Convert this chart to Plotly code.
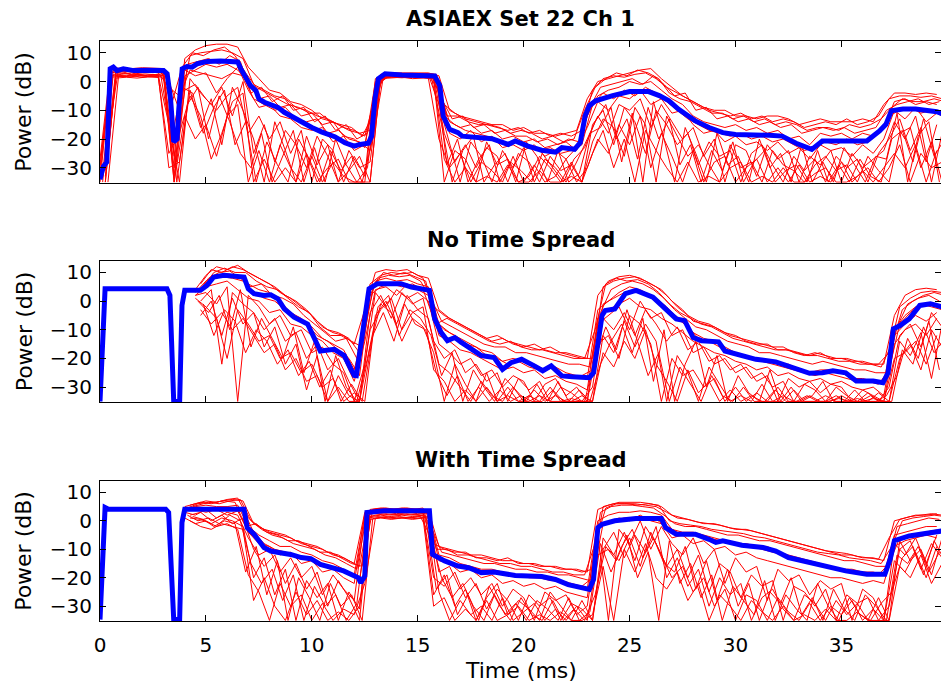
import plotly.graph_objects as go

FONT = "DejaVu Sans"

# ---------------- time grids for the red ensemble traces (ms) ----------------
T_A = [0.0, 0.5, 1.0, 1.5, 2.0, 2.5, 3.0, 3.5, 4.0, 4.5,
       5.0, 5.5, 6.0, 6.5, 7.0, 7.5, 8.0, 8.5, 9.0, 9.5,
       10.0, 10.5, 11.0, 11.5, 12.0, 12.5, 13.0, 13.5, 14.0, 14.5,
       15.0, 15.5, 16.0, 16.5, 17.0, 17.5, 18.0, 18.5, 19.0, 19.5,
       20.0, 20.5, 21.0, 21.5, 22.0, 22.5, 23.0, 23.5, 24.0, 24.5,
       25.0, 25.5, 26.0, 26.5, 27.0, 27.5, 28.0, 28.5, 29.0, 29.5,
       30.0, 30.5, 31.0, 31.5, 32.0, 32.5, 33.0, 33.5, 34.0, 34.5,
       35.0, 35.5, 36.0, 36.5, 37.0, 37.5, 38.0, 38.5, 39.0, 39.5]
T_B = [0.25, 0.75, 1.25, 1.75, 2.25, 2.75, 3.25, 3.75, 4.25, 4.75,
       5.25, 5.75, 6.25, 6.75, 7.25, 7.75, 8.25, 8.75, 9.25, 9.75,
       10.25, 10.75, 11.25, 11.75, 12.25, 12.75, 13.25, 13.75, 14.25, 14.75,
       15.25, 15.75, 16.25, 16.75, 17.25, 17.75, 18.25, 18.75, 19.25, 19.75,
       20.25, 20.75, 21.25, 21.75, 22.25, 22.75, 23.25, 23.75, 24.25, 24.75,
       25.25, 25.75, 26.25, 26.75, 27.25, 27.75, 28.25, 28.75, 29.25, 29.75,
       30.25, 30.75, 31.25, 31.75, 32.25, 32.75, 33.25, 33.75, 34.25, 34.75,
       35.25, 35.75, 36.25, 36.75, 37.25, 37.75, 38.25, 38.75, 39.25, 39.75]
T_C = [0.125, 0.625, 1.125, 1.625, 2.125, 2.625, 3.125, 3.625, 4.125, 4.625,
       5.125, 5.625, 6.125, 6.625, 7.125, 7.625, 8.125, 8.625, 9.125, 9.625,
       10.125, 10.625, 11.125, 11.625, 12.125, 12.625, 13.125, 13.625, 14.125, 14.625,
       15.125, 15.625, 16.125, 16.625, 17.125, 17.625, 18.125, 18.625, 19.125, 19.625,
       20.125, 20.625, 21.125, 21.625, 22.125, 22.625, 23.125, 23.625, 24.125, 24.625,
       25.125, 25.625, 26.125, 26.625, 27.125, 27.625, 28.125, 28.625, 29.125, 29.625,
       30.125, 30.625, 31.125, 31.625, 32.125, 32.625, 33.125, 33.625, 34.125, 34.625,
       35.125, 35.625, 36.125, 36.625, 37.125, 37.625, 38.125, 38.625, 39.125, 39.625]
T_D = [0.375, 0.875, 1.375, 1.875, 2.375, 2.875, 3.375, 3.875, 4.375, 4.875,
       5.375, 5.875, 6.375, 6.875, 7.375, 7.875, 8.375, 8.875, 9.375, 9.875,
       10.375, 10.875, 11.375, 11.875, 12.375, 12.875, 13.375, 13.875, 14.375, 14.875,
       15.375, 15.875, 16.375, 16.875, 17.375, 17.875, 18.375, 18.875, 19.375, 19.875,
       20.375, 20.875, 21.375, 21.875, 22.375, 22.875, 23.375, 23.875, 24.375, 24.875,
       25.375, 25.875, 26.375, 26.875, 27.375, 27.875, 28.375, 28.875, 29.375, 29.875,
       30.375, 30.875, 31.375, 31.875, 32.375, 32.875, 33.375, 33.875, 34.375, 34.875,
       35.375, 35.875, 36.375, 36.875, 37.375, 37.875, 38.375, 38.875, 39.375, 39.875]

# ---------------- Panel 1: ASIAEX Set 22 Ch 1 ----------------
P1_RED_A = [
    [-27, 5, 4.5, 4.5, 4.8, 4.6, 4.5, -33, 8, 11,
     12.5, 13, 13, 12, 5, 1, -3, -4, -7, -8,
     -10, -13, -14, -16, -17, -19, -5, 3, 3, 2.8,
     3, 3, 2, -10, -12, -13, -14, -15, -15, -17,
     -16, -18, -18, -19, -18, -17, -6, 0, 1, 2,
     3, 4, 4.5, 1, -2, -5, -7, -9, -10, -10,
     -12, -12, -13, -12, -12, -13, -15, -14, -13, -14,
     -14, -14, -13, -14, -8, -4, -4, -4.5, -4, -4.5],
    [-30, 3, 3.5, 2.5, 3, 3.2, 3, -35, 2, 4,
     6, 5, 6, 4, 0, -6, -5, -9, -8, -12,
     -11, -15, -14, -19, -20, -23, 0, 2, 2, 1.8,
     2.2, 2, -3, -14, -16, -15, -18, -17, -20, -19,
     -21, -20, -23, -22, -21, -24, -12, -5, -3, -2,
     0, -1, 0, -3, -6, -8, -12, -14, -15, -16,
     -15, -17, -16, -18, -17, -20, -19, -22, -18, -19,
     -18, -20, -18, -19, -16, -7, -6, -8, -7, -8],
    [-35, 2, 2.5, 3, 2, 2.5, 2, -30, -3, -1,
     -6, -10, -5, -2, -18, -12, -20, -14, -25, -17,
     -35, -20, -24, -35, -26, -33, 1, 2.5, 2.2, 2.5,
     2, 2.4, -8, -22, -35, -21, -26, -35, -24, -30,
     -23, -35, -27, -30, -35, -28, -20, -12, -18, -8,
     -10, -6, -16, -8, -14, -20, -16, -26, -20, -35,
     -22, -24, -33, -22, -27, -24, -35, -26, -29, -24,
     -35, -25, -30, -27, -24, -14, -20, -12, -28, -15],
    [-29, 1.5, 1.8, 2, 1.5, 1.8, 1.5, -35, -12, -20,
     -15, -26, -12, -8, -35, -24, -35, -22, -30, -35,
     -26, -35, -28, -33, -35, -35, -2, 1.5, 1.8, 1.5,
     1.7, 1.2, -20, -30, -25, -35, -28, -31, -35, -26,
     -35, -29, -35, -33, -27, -35, -30, -20, -25, -15,
     -22, -12, -30, -18, -26, -35, -24, -35, -28, -26,
     -35, -30, -27, -35, -30, -35, -29, -35, -33, -35,
     -28, -35, -31, -35, -30, -25, -30, -22, -35, -24],
    [-33, 3.5, 4, 3.5, 4, 3.6, 3.8, -26, 4, 2,
     3, -4, 1, 5, -3, -9, -8, -12, -13, -16,
     -17, -16, -21, -19, -24, -22, -3, 2.6, 2.4, 2.6,
     2.4, 2.6, 0, -18, -20, -17, -21, -19, -23, -22,
     -24, -22, -26, -24, -27, -23, -16, -7, -10, -5,
     -6, -3, -8, -6, -11, -10, -15, -18, -17, -21,
     -19, -22, -21, -24, -21, -25, -23, -27, -22, -24,
     -23, -26, -22, -25, -20, -10, -13, -9, -14, -11],
]
P1_RED_B = [
    [-28, 4, 4, 3.8, 4.2, 4, 0, -10, 9, 10,
     10.5, 11, 10, 8, -1, -3, -5, -6, -9, -10,
     -12, -13, -15, -17, -18, -17, 2.5, 2.8, 2.5, 2.8,
     2.6, 2.5, -8, -11, -13, -14, -15, -16, -17, -16,
     -18, -17, -19, -18, -19, -17, -3, 1, 2, 1.5,
     2.5, 3, 1, -2, -4, -6, -8, -10, -11, -12,
     -11, -13, -12, -14, -13, -14, -16, -15, -14, -15,
     -13, -15, -14, -12, -6, -5, -5, -5.5, -5, -6],
    [-31, 3, 3.5, 3.2, 3.5, 3, -2, -5, 4, 3,
     2, 1, 3, 2, -6, -8, -10, -9, -13, -14,
     -13, -18, -17, -20, -21, -24, 2, 2.2, 2, 2.4,
     2, 2.2, -12, -15, -17, -18, -19, -20, -22, -21,
     -22, -24, -23, -25, -24, -22, -8, -4, -6, -3,
     -5, -2, -4, -7, -10, -13, -15, -17, -18, -19,
     -18, -20, -19, -21, -20, -22, -24, -23, -21, -22,
     -20, -22, -21, -18, -12, -10, -9, -11, -10, -12],
    [-35, 2.2, 2, 2.5, 2, 2.3, -15, -35, 1, -4,
     -8, -2, -12, 0, -25, -15, -28, -17, -22, -30,
     -19, -26, -35, -24, -30, -28, 1.5, 2, 1.8, 2,
     1.5, 1.8, -18, -28, -22, -30, -23, -26, -35, -25,
     -28, -35, -26, -31, -29, -35, -15, -10, -22, -9,
     -14, -25, -10, -15, -22, -18, -29, -21, -26, -24,
     -35, -25, -22, -29, -35, -26, -31, -27, -35, -26,
     -30, -27, -35, -25, -20, -13, -24, -16, -35, -18],
    [-33, 1.2, 1.5, 1.2, 1.6, 1.4, -25, -18, -5, -12,
     -27, -18, -7, -4, -35, -27, -35, -30, -35, -25,
     -35, -30, -27, -35, -35, -35, 1, 1.2, 1.5, 1,
     1.2, 1, -27, -35, -30, -35, -33, -35, -29, -35,
     -35, -31, -35, -35, -33, -35, -25, -17, -30, -20,
     -35, -17, -24, -30, -35, -28, -35, -33, -35, -30,
     -28, -35, -33, -35, -30, -35, -35, -32, -30, -35,
     -35, -33, -30, -35, -30, -22, -35, -25, -30, -28],
    [-35, 2, 1.8, 2.2, 1.9, 2.1, -30, -28, -3, -16,
     -6, -22, -2, -10, -20, -35, -14, -24, -35, -19,
     -29, -22, -35, -31, -26, -35, 1.2, 1.5, 1.3, 1.6,
     1.4, 1.5, -35, -24, -27, -35, -21, -29, -27, -35,
     -33, -26, -30, -35, -28, -35, -21, -13, -16, -26,
     -9, -15, -35, -12, -19, -26, -22, -29, -35, -22,
     -30, -28, -35, -24, -29, -31, -35, -29, -26, -31,
     -29, -35, -26, -31, -35, -18, -16, -30, -21, -35],
]
P1_RED_C = [
    [-32, 4, 3.6, 4, 3.5, 3.8, 3.6, -28, 6, 7,
     8, 6, 9, 7, -4, -2, -7, -5, -10, -9,
     -14, -12, -17, -15, -20, -18, 0, 2.5, 2.7, 2.3,
     2.5, 2.3, -6, -13, -12, -16, -15, -18, -17, -19,
     -19, -21, -20, -22, -20, -21, -9, -2, -1, 0,
     1, -1, 2, -1, -5, -4, -10, -9, -13, -12,
     -14, -13, -15, -14, -16, -15, -18, -17, -16, -17,
     -16, -18, -17, -16, -10, -8, -7, -6, -8, -7],
    [-35, 2.5, 2.8, 2.2, 2.6, 2.4, 2.7, -35, -8, -2,
     -20, -5, -14, -25, -30, -18, -35, -26, -17, -35,
     -23, -35, -20, -29, -35, -30, -1, 1.8, 2.2, 2,
     2.1, 2, -15, -35, -24, -19, -35, -29, -25, -35,
     -21, -26, -35, -24, -35, -32, -18, -16, -9, -28,
     -11, -35, -7, -20, -35, -16, -25, -35, -18, -29,
     -26, -35, -20, -30, -25, -35, -22, -35, -28, -35,
     -23, -29, -35, -26, -27, -11, -35, -19, -14, -35],
]
P1_RED_D = [
    [-20, 4.5, 4.2, 4.4, 4, 4.3, -8, 5, 10, 9,
     11, 12, 9, 3, -2, -4, -6, -8, -9, -11,
     -11, -14, -15, -16, -19, -12, 2.8, 2.5, 2.8, 2.6,
     2.8, 2.5, -12, -12, -14, -15, -15, -16, -18, -17,
     -18, -20, -19, -21, -20, -10, -2, 1, 3, 2,
     4, 3, 1, -4, -6, -7, -9, -11, -11, -13,
     -12, -14, -13, -15, -14, -15, -17, -16, -16, -17,
     -15, -16, -15, -13, -9, -6, -7, -7, -6, -7],
    [-35, 1.8, 1.6, 2, 1.7, 1.9, -20, -2, -4, -18,
     -9, -3, -22, -14, -35, -21, -29, -35, -20, -27,
     -35, -24, -31, -26, -35, -20, 1.5, 1.7, 1.4, 1.8,
     1.5, 1.6, -29, -20, -35, -27, -22, -35, -28, -31,
     -35, -25, -30, -35, -27, -23, -14, -8, -20, -13,
     -27, -9, -20, -13, -29, -22, -35, -24, -31, -21,
     -35, -28, -24, -35, -31, -29, -35, -24, -35, -29,
     -35, -27, -33, -35, -20, -17, -28, -13, -26, -20],
]
BLUE1 = [(0, -34), (0.16, -29.5), (0.32, -28), (0.4, -6), (0.48, 4.4), (0.63, 5),
         (0.8, 3.8), (1.1, 4.4), (1.3, 4), (1.6, 3.8), (2.2, 3.9), (2.7, 3.8),
         (3.0, 3.8), (3.17, 2.7), (3.33, -6), (3.48, -21), (3.64, -20), (3.72, -9.5),
         (3.88, 4.4), (4.1, 5.2), (4.35, 5), (4.6, 6.2), (5.07, 7), (5.7, 7.1),
         (6.33, 7), (6.5, 6.8), (6.65, 4.4), (6.9, 1), (7.1, -1.4), (7.36, -3.2),
         (7.5, -6), (7.76, -7.2), (8.08, -8.2), (8.4, -9), (8.7, -10.7), (9.0, -12),
         (9.5, -14.3), (10.0, -16), (10.45, -17.5), (11.08, -19.2), (11.56, -21.3),
         (12.0, -22.5), (12.27, -21.9), (12.67, -21.5), (12.82, -19), (12.98, -6),
         (13.14, 1), (13.46, 2.7), (14.25, 2.3), (15.04, 2.3), (15.8, 1.9),
         (16.04, -1.4), (16.2, -12), (16.5, -16.6), (16.9, -17.8), (17.1, -19),
         (18.0, -19.3), (18.5, -19.9), (19.27, -21.9), (19.6, -20.7), (20.2, -22.5),
         (20.85, -23.9), (21.5, -24.6), (21.8, -23), (22.4, -23.6), (22.67, -21.3),
         (22.9, -12), (23.1, -8.4), (23.4, -6.7), (23.7, -6), (24.2, -4.9),
         (25.0, -3.5), (25.9, -3.5), (26.4, -4.9), (26.86, -6.7), (27.3, -9.6),
         (28.1, -13.7), (28.75, -16), (29.4, -17.8), (30.0, -18.4), (31.0, -18.4),
         (31.6, -18.7), (32.2, -19), (32.86, -21.5), (33.6, -23.6), (34.1, -20.7),
         (34.9, -20.7), (35.9, -20.7), (36.2, -20.7), (36.8, -17.2), (37.1, -14.9),
         (37.36, -10.2), (37.9, -9.6), (38.5, -9.6), (39.5, -10.5), (39.8, -11.3)]

# ---------------- Panel 2: No Time Spread ----------------
P2_RED_A = [
    [4,
     9, 12, 11, 12.5, 10, 8, 6, 3, 1, -2,
     -5, -9, -11, -12, -15, -3, 10, 11, 10.5, 11,
     9, 8, -3, -6, -8, -10, -12, -14, -13, -15,
     -16, -15, -17, -18, -18, -19, -20, 2, 7, 8.5,
     9, 8, 6, 4, 0, -3, -7, -8, -9, -11,
     -12, -14, -15, -15, -17, -17, -18, -19, -18, -20,
     -20, -21, -21, -22, -22, -5, 2, 4, 4.5, 4],
    [3,
     7, 9, 9.5, 9, 6, 4, 3, 0, -4, -6,
     -9, -13, -15, -17, -24, -8, 7, 8, 7, 7.5,
     6, 5, -8, -11, -13, -15, -17, -18, -21, -20,
     -21, -22, -24, -23, -25, -26, -27, -3, 0, 3,
     5, 4, 2, -1, -4, -7, -11, -13, -14, -16,
     -18, -19, -20, -21, -22, -22, -24, -25, -24, -24,
     -25, -27, -27, -28, -28, -10, -5, -2, -1, -2],
    [2,
     3, -1, 5, -35, 2, -2, -8, -5, -12, -10,
     -18, -16, -22, -25, -35, -22, 3, -2, 4, 1,
     3, 0, -15, -18, -22, -20, -26, -24, -30, -26,
     -28, -35, -29, -27, -33, -30, -35, -8, -5, -2,
     -10, 0, -6, -4, -12, -10, -18, -16, -22, -20,
     -25, -23, -28, -26, -35, -27, -30, -28, -32, -29,
     -30, -35, -31, -33, -35, -15, -10, -8, -12, -6],
    [1,
     -2, -6, -20, -3, -8, -14, -12, -20, -18, -25,
     -22, -30, -27, -35, -32, -35, -5, 0, -8, 2,
     -3, -6, -22, -25, -30, -35, -28, -33, -35, -30,
     -35, -31, -35, -33, -35, -35, -35, -15, -12, -20,
     -5, -8, -15, -35, -20, -26, -24, -30, -27, -35,
     -30, -35, -32, -35, -30, -35, -35, -33, -35, -35,
     -33, -35, -35, -34, -35, -20, -18, -14, -22, -12],
    [2,
     5, 6, 7, 4, 1, 0, -4, -3, -8, -9,
     -12, -14, -18, -20, -28, -14, 4, 5, 2, 6,
     4, 2, -12, -14, -17, -18, -20, -22, -24, -23,
     -25, -24, -27, -26, -28, -29, -31, -6, -3, -1,
     1, -2, -3, -6, -8, -11, -14, -16, -18, -19,
     -21, -22, -24, -23, -26, -25, -27, -28, -27, -29,
     -28, -30, -31, -30, -33, -12, -8, -5, -7, -4],
]
P2_RED_B = [
    [6,
     11, 10, 12, 11, 9, 7, 5, 2, 0, -3,
     -7, -10, -11, -13, -18, 6, 9, 10, 9.5, 10,
     8, -2, -5, -7, -9, -11, -13, -12, -14, -15,
     -16, -17, -16, -18, -19, -20, -20, 5, 7, 8,
     8.5, 7, 5, 2, -2, -5, -7, -8, -10, -12,
     -13, -14, -15, -16, -16, -18, -19, -18, -19, -20,
     -20, -21, -22, -22, -18, -2, 1, 3, 3.5, 3],
    [4,
     8, 8.5, 8, 7, 3, 1, 0, -3, -6, -8,
     -12, -14, -17, -20, -26, 2, 5, 6, 5, 6,
     4, -6, -10, -12, -15, -16, -19, -20, -22, -21,
     -23, -24, -23, -26, -27, -26, -24, -1, 1, 3,
     4, 2, 1, -2, -6, -9, -13, -14, -16, -18,
     -19, -20, -21, -22, -23, -24, -25, -26, -25, -26,
     -27, -28, -28, -29, -24, -8, -4, -1, -2, -3],
    [0,
     4, -22, 3, -1, -4, -10, -6, -14, -11, -20,
     -15, -24, -20, -28, -35, -4, 2, -6, 3, -1,
     1, -14, -20, -17, -25, -22, -28, -25, -35, -27,
     -31, -28, -35, -30, -32, -35, -30, -6, -10, -4,
     -12, -3, -8, -14, -9, -17, -14, -21, -19, -24,
     -22, -27, -25, -30, -28, -35, -29, -31, -35, -30,
     -33, -35, -32, -35, -30, -12, -8, -16, -4, -9],
    [-3,
     -8, -4, -10, -6, -12, -18, -15, -24, -20, -28,
     -26, -35, -30, -35, -35, -10, -3, 1, -10, -4,
     -2, -24, -28, -35, -31, -35, -30, -35, -33, -35,
     -35, -33, -35, -35, -34, -35, -35, -18, -23, -14,
     -20, -10, -22, -28, -35, -24, -32, -28, -35, -31,
     -35, -33, -35, -35, -33, -35, -35, -35, -33, -35,
     -35, -34, -35, -35, -35, -20, -15, -24, -10, -16],
    [-5,
     0, -12, 1, -8, -4, -16, -9, -22, -15, -31,
     -19, -35, -26, -33, -35, -16, -1, -4, -14, -6,
     -9, -18, -35, -22, -29, -35, -25, -35, -30, -35,
     -33, -35, -30, -35, -35, -33, -35, -12, -18, -7,
     -16, -8, -14, -35, -19, -25, -35, -23, -29, -35,
     -33, -35, -29, -35, -35, -31, -35, -35, -35, -33,
     -35, -35, -35, -32, -35, -14, -19, -11, -27, -8],
]
P2_RED_C = [
    [3,
     8, 10, 10.5, 8, 5, 6, 2, 1, -1, -5,
     -8, -11, -14, -13, -20, 0, 8, 9, 8.5, 9,
     7, 1, -7, -9, -11, -13, -15, -16, -16, -18,
     -18, -19, -20, -21, -22, -22, -23, -4, 4, 6,
     7, 6, 4, 1, -3, -6, -9, -10, -12, -14,
     -15, -16, -18, -18, -19, -20, -21, -22, -21, -22,
     -23, -24, -24, -25, -25, -9, -1, 1, 2, 0],
    [0,
     -4, 2, -10, 4, -16, -6, -13, -20, -9, -25,
     -14, -35, -19, -30, -35, -20, -2, 2, -12, -3,
     -6, -12, -26, -18, -35, -24, -30, -35, -27, -31,
     -35, -29, -35, -28, -35, -31, -35, -22, -14, -8,
     -18, -6, -28, -10, -35, -22, -14, -30, -19, -35,
     -26, -32, -35, -24, -35, -30, -35, -33, -28, -35,
     -35, -31, -35, -35, -33, -26, -13, -20, -7, -24],
]
P2_RED_D = [
    [5,
     10, 11.5, 10, 10, 7, 5, 4, 1, -2, -4,
     -9, -12, -12, -14, -16, 4, 10, 9, 10, 8.5,
     7, -8, -6, -8, -10, -12, -14, -15, -14, -16,
     -17, -17, -18, -19, -20, -20, -10, 6, 8, 7,
     7.5, 6, 3, -1, -4, -6, -8, -9, -11, -13,
     -14, -15, -16, -17, -17, -18, -19, -19, -20, -21,
     -21, -22, -22, -23, -15, -3, 0, 2, 3, 2],
    [-1,
     -12, -3, -7, -18, -10, -14, -22, -17, -26, -21,
     -30, -24, -35, -29, -35, -12, -4, -14, -1, -8,
     -10, -25, -33, -26, -35, -30, -35, -31, -35, -33,
     -35, -35, -31, -35, -35, -35, -20, -9, -17, -3,
     -14, -26, -18, -35, -23, -29, -35, -26, -33, -35,
     -30, -35, -35, -31, -35, -35, -33, -35, -35, -34,
     -35, -35, -33, -35, -35, -17, -22, -9, -18, -13],
]
BLUE2 = [(0, -35), (0.24, 4.3), (1.5, 4.3), (3.16, 4.3), (3.3, 2), (3.48, -35),
         (3.76, -35), (3.87, -1.5), (4.0, 3.75), (4.74, 3.75), (5.05, 5.5), (5.37, 8.4),
         (5.85, 9), (6.3, 8.8), (6.8, 8.4), (7.0, 4.3), (7.27, 2.6), (7.74, 2),
         (8.06, 2.2), (8.4, 0.8), (8.7, -2.7), (9.16, -5.6), (9.48, -6.8), (9.8, -8),
         (10.1, -12.7), (10.4, -17.4), (11.06, -16.8), (11.53, -19), (11.85, -23.8),
         (12.0, -25.9), (12.1, -26), (12.32, -15.6), (12.5, -5), (12.7, 4.3),
         (13.1, 6.1), (14.2, 6.1), (14.7, 4.9), (15.55, 3.75), (15.8, -6.2),
         (16.1, -10.9), (16.4, -13.8), (16.75, -12.7), (17.06, -14.4), (17.7, -17.4),
         (18.0, -19), (18.6, -19.7), (19.0, -23.8), (19.4, -21.5), (19.9, -20.3),
         (20.5, -22.6), (20.9, -24.3), (21.3, -22.6), (21.8, -26.1), (22.3, -26.4),
         (23.1, -26.7), (23.3, -25), (23.7, -5), (23.85, -3.3), (24.3, -2.7),
         (24.8, 2.6), (25.3, 3.75), (26.1, 1.4), (26.5, -1.5), (27.2, -6.2),
         (27.6, -6.8), (28.0, -12.7), (28.4, -13.8), (29.2, -14.2), (29.5, -17.4),
         (30.0, -18.5), (30.96, -20.3), (31.9, -21.2), (32.86, -23.8), (33.5, -25.2),
         (34.1, -25), (34.6, -24.3), (35.2, -25), (35.7, -27.9), (36.5, -27.9),
         (36.96, -28.5), (37.2, -25), (37.45, -9.7), (37.75, -8.6), (38.2, -6.2),
         (38.7, -1.5), (39.2, -0.9), (39.8, -2.1)]

# ---------------- Panel 3: With Time Spread ----------------
P3_RED_A = [
    [5, 6,
     7, 6.5, 7.5, 8, 1, -2, -4, -5, -6, -8,
     -9, -10, -12, -13, -15, 3, 4, 4.5, 4, 4.5,
     4, 4, -9, -10, -11, -12, -12, -13, -14, -14,
     -15, -15, -16, -16, -17, -17, -18, 4, 5.5, 6.5,
     6.5, 6.5, 6, 5, 2, 1, 0, -1, -1, -2,
     -3, -3, -4, -5, -6, -7, -8, -9, -10, -11,
     -12, -12, -13, -13, -14, 0, 1, 2, 2, 2.5],
    [4, 5,
     5.5, 5, 5, 5.5, -2, -5, -7, -9, -9, -11,
     -12, -14, -15, -17, -19, 2, 3, 3.5, 3, 3.5,
     3, 3, -12, -13, -15, -16, -17, -17, -18, -19,
     -19, -19, -20, -21, -22, -23, -24, 0, 2, 3,
     3, 3.5, 3, 2, -3, -4, -4, -5, -6, -7,
     -8, -8, -9, -9, -11, -12, -13, -14, -15, -16,
     -17, -17, -18, -18, -19, -5, -4, -3, -2, -2],
    [3, 2,
     4, 1, 3, 2, -6, -12, -10, -18, -13, -20,
     -16, -26, -19, -24, -28, 1, 2, 2.5, 2, 2.5,
     2, 1.5, -18, -16, -24, -20, -26, -22, -30, -24,
     -27, -35, -25, -28, -26, -33, -30, -5, -35, -3,
     -8, 0, -10, -2, -8, -12, -6, -15, -10, -22,
     -13, -18, -16, -28, -17, -21, -19, -26, -21, -24,
     -22, -35, -24, -27, -35, -8, -12, -6, -15, -5],
    [1, -1,
     0, -2, -1, -3, -19, -25, -35, -22, -30, -26,
     -35, -29, -35, -31, -33, -22, 1, 1.5, 1, 1,
     1.5, 1, -25, -35, -28, -33, -30, -35, -27, -35,
     -32, -29, -35, -31, -35, -30, -35, -12, -10, -14,
     -6, -16, -4, -12, -20, -16, -25, -20, -30, -24,
     -35, -26, -28, -35, -27, -32, -35, -29, -35, -30,
     -33, -28, -35, -31, -35, -14, -18, -11, -20, -9],
    [3.5, 4,
     3, 4, 2, 3.5, -4, -8, -9, -12, -11, -15,
     -14, -18, -17, -20, -22, 2.5, 3, 3, 2.5, 3,
     2.5, 2.5, -14, -15, -18, -17, -20, -19, -22, -21,
     -23, -22, -24, -23, -25, -26, -27, -2, -1, 1,
     0, 2, 0, -1, -6, -5, -8, -7, -10, -9,
     -12, -11, -13, -14, -15, -16, -17, -18, -19, -20,
     -20, -21, -22, -21, -22, -9, -7, -6, -5, -6],
]
P3_RED_B = [
    [5.5, 6.5,
     6, 7, 7.5, 7, -1, -3, -4, -5, -7, -8,
     -9, -11, -12, -14, -16, 4, 4.5, 4, 4.5, 4,
     4.5, -8, -10, -11, -11, -13, -13, -14, -13, -15,
     -15, -16, -16, -17, -17, -18, -17, 5, 6, 6,
     6, 5.5, 5, 3, 1, 0.5, -0.5, -1, -1.5, -2.5,
     -3, -3.5, -4.5, -5.5, -6.5, -7.5, -8.5, -9.5, -10.5, -11,
     -11.5, -12.5, -13, -13.5, -6, 0.5, 1.5, 2, 2.5, 2],
    [4.5, 4,
     4.5, 4, 4.5, 4, -4, -8, -10, -11, -12, -13,
     -14, -16, -17, -18, -21, 3, 3.5, 3, 3.5, 3,
     3.5, -12, -14, -15, -16, -17, -18, -18, -19, -19,
     -20, -20, -21, -21, -22, -23, -20, -1, 0, 1,
     1, 1, 0.5, -2, -4, -5, -5, -6, -7, -8,
     -8.5, -9, -10, -11, -12, -13, -14, -15, -16, -17,
     -17.5, -18, -19, -19, -15, -6, -5, -4.5, -3.5, -3],
    [2, 3,
     0, 2, -1, 1, -10, -16, -12, -22, -15, -24,
     -18, -30, -21, -27, -35, 1.5, 2, 1.5, 2, 1.5,
     2, -20, -23, -18, -27, -22, -31, -24, -28, -35,
     -26, -30, -27, -35, -29, -31, -35, -6, -12, -4,
     -14, -2, -8, -16, -10, -20, -12, -25, -15, -18,
     -27, -19, -23, -21, -35, -23, -25, -30, -24, -35,
     -26, -29, -27, -35, -30, -10, -7, -17, -8, -13],
    [0, -2,
     -3, -1, -2, -3, -28, -20, -30, -35, -25, -33,
     -28, -35, -32, -35, -30, 0.5, 1, 0.5, 1, 0.5,
     1, -30, -27, -35, -31, -35, -28, -35, -33, -30,
     -35, -33, -35, -32, -35, -35, -33, -16, -35, -10,
     -18, -8, -20, -24, -18, -28, -22, -35, -26, -30,
     -35, -28, -32, -35, -30, -35, -33, -35, -31, -35,
     -35, -32, -35, -35, -35, -16, -20, -12, -22, -15],
    [1, 0.5,
     -1, 1, 0, -2, -20, -13, -26, -17, -35, -21,
     -27, -22, -35, -25, -31, 2.5, 2.5, 2, 2.5, 2,
     2.5, -26, -19, -30, -24, -35, -27, -22, -33, -28,
     -31, -35, -25, -30, -35, -28, -35, -10, -4, -13,
     -5, -11, -2, -20, -13, -23, -17, -30, -20, -26,
     -22, -35, -27, -24, -31, -35, -26, -29, -35, -28,
     -33, -29, -35, -27, -35, -7, -14, -10, -19, -6],
]
P3_RED_C = [
    [4.5, 6,
     6.5, 6, 7, 7.5, 0, -3, -5, -6, -8, -9,
     -10, -12, -13, -15, -17, 3.5, 4, 4, 4, 4,
     4, -2, -11, -12, -13, -14, -15, -15, -16, -17,
     -17, -18, -18, -19, -19, -20, -21, 3, 5, 5.5,
     5.5, 5, 4.5, 2, -1, -2, -2, -3, -4, -5,
     -5, -6, -7, -7, -8, -9, -10, -11, -12, -13,
     -14, -14, -15, -16, -16, -2, -1, 0, 1, 0.5],
    [2, 0,
     1, -1, 2, 0, -15, -22, -17, -28, -19, -35,
     -23, -30, -26, -35, -29, 1, 1.5, 1, 1.5, 1,
     1.5, -6, -20, -27, -22, -30, -35, -26, -33, -29,
     -35, -28, -31, -35, -27, -35, -32, -8, -18, -9,
     -3, -13, -6, -15, -18, -9, -24, -14, -28, -17,
     -30, -22, -35, -25, -29, -20, -33, -27, -35, -24,
     -31, -35, -26, -30, -35, -12, -15, -9, -18, -11],
]
P3_RED_D = [
    [5, 6,
     6.5, 7, 6.5, -2, -1, -4, -5, -7, -7, -9,
     -11, -11, -13, -15, -16, 4, 4.5, 4, 4.5, 4,
     4, -10, -10, -12, -12, -13, -14, -15, -15, -16,
     -16, -17, -18, -18, -19, -19, -8, 4.5, 6, 6,
     5.5, 6, 5.5, 0, -1, -1.5, -2, -3, -3.5, -4,
     -4.5, -5.5, -6, -7, -8, -9, -10, -11, -11.5, -12,
     -13, -13.5, -14, -15, -9, 0, 1, 1.5, 2, 1.5],
    [1.5, 0.5,
     -2, 0, -1, -18, -9, -26, -14, -35, -20, -27,
     -35, -22, -30, -26, -35, 0.8, 1.2, 0.8, 1.2, 0.8,
     1.2, -24, -19, -33, -26, -35, -23, -30, -35, -27,
     -33, -35, -28, -35, -31, -35, -26, -9, -14, -5,
     -20, -11, -35, -7, -22, -15, -27, -19, -35, -23,
     -28, -33, -21, -35, -26, -31, -35, -22, -30, -35,
     -27, -33, -35, -29, -25, -13, -9, -19, -7, -14],
]
BLUE3 = [(0, -34.7), (0.24, 4.7), (0.4, 4.1), (3.1, 4.1), (3.24, 2.9), (3.48, -34.7),
         (3.76, -34.7), (3.87, -0.6), (4.0, 4.1), (6.8, 4.1), (6.95, -2.4), (7.27, -4.7),
         (7.74, -9.4), (8.06, -10.6), (8.5, -11.2), (9.0, -11.8), (9.5, -12.9),
         (9.95, -13.3), (10.4, -15.3), (10.9, -16.5), (11.5, -17.6), (12.2, -20),
         (12.3, -21.8), (12.5, -19.4), (12.6, 2.9), (13.4, 3.5), (15.55, 3.5),
         (15.7, -11.8), (16.27, -14.1), (16.9, -15.9), (17.4, -16.5), (18.0, -18.2),
         (18.6, -18), (19.6, -19.2), (20.85, -19.6), (21.5, -20.6), (22.1, -22.4),
         (23.1, -24.1), (23.3, -20.6), (23.5, -2.4), (23.7, -1.2), (24.3, 0),
         (25.3, 0.8), (26.5, 0.8), (26.7, -2.4), (27.2, -4.7), (28.1, -4.7),
         (28.75, -6.5), (29.07, -7.6), (29.4, -7), (30.3, -8.6), (31.3, -9.4),
         (31.9, -10.6), (32.5, -12.9), (33.5, -14.7), (34.4, -15.9), (35.2, -17.6),
         (36.2, -18.8), (37.05, -18.8), (37.3, -13.5), (37.5, -7), (38.2, -5.3),
         (38.8, -4.7), (39.8, -3.5)]

TITLES = ["ASIAEX Set 22 Ch 1", "No Time Spread", "With Time Spread"]
X_TICKS = [0, 5, 10, 15, 20, 25, 30, 35]
Y_TICKS = [-30, -20, -10, 0, 10]

# ---------------- build figure ----------------
fig = go.Figure()
panels = [
    ([(T_A, P1_RED_A), (T_B, P1_RED_B), (T_C, P1_RED_C), (T_D, P1_RED_D)], BLUE1, "x", "y", 80),
    ([(T_A, P2_RED_A), (T_B, P2_RED_B), (T_C, P2_RED_C), (T_D, P2_RED_D)], BLUE2, "x2", "y2", 71),
    ([(T_A, P3_RED_A), (T_B, P3_RED_B), (T_C, P3_RED_C), (T_D, P3_RED_D)], BLUE3, "x3", "y3", 72),
]
for groups, blue, xa, ya, n in panels:
    for grid, group in groups:
        for vals in group:
            assert len(vals) == n, (xa, len(vals))
            fig.add_trace(go.Scatter(
                x=grid[len(grid) - len(vals):], y=vals, mode="lines",
                line=dict(color="#ff0000", width=1),
                xaxis=xa, yaxis=ya, hoverinfo="skip", showlegend=False))
    fig.add_trace(go.Scatter(
        x=[p[0] for p in blue], y=[p[1] for p in blue], mode="lines",
        line=dict(color="#0000ff", width=5),
        xaxis=xa, yaxis=ya, hoverinfo="skip", showlegend=False))

tick_font = dict(family=FONT, size=20, color="black")
common_x = dict(range=[0, 39.7], tickmode="array", tickvals=X_TICKS,
                ticks="inside", ticklen=6, tickwidth=1, tickcolor="black",
                showline=True, linecolor="black", linewidth=1, mirror="ticks",
                showgrid=False, zeroline=False, tickfont=tick_font,
                ticklabelstandoff=6)
common_y = dict(range=[-35.2, 14.1], tickmode="array", tickvals=Y_TICKS,
                ticks="inside", ticklen=6, tickwidth=1, tickcolor="black",
                showline=True, linecolor="black", linewidth=1, mirror="ticks",
                showgrid=False, zeroline=False, tickfont=tick_font,
                ticklabelstandoff=3)

domains = [[0.7557, 1.0], [0.3776, 0.6212], [0.0, 0.2419]]

fig.update_layout(
    width=941, height=685,
    margin=dict(l=100, r=0, t=41, b=64),
    paper_bgcolor="white", plot_bgcolor="white",
    showlegend=False,
    xaxis=dict(common_x, anchor="y", domain=[0, 1], showticklabels=False),
    yaxis=dict(common_y, anchor="x", domain=domains[0]),
    xaxis2=dict(common_x, anchor="y2", domain=[0, 1], showticklabels=False),
    yaxis2=dict(common_y, anchor="x2", domain=domains[1]),
    xaxis3=dict(common_x, anchor="y3", domain=[0, 1], showticklabels=True),
    yaxis3=dict(common_y, anchor="x3", domain=domains[2]),
)

def py(px):
    return (621 - px) / 580.0

annotations = []
title_y = [19, 240, 460]
for title, ty in zip(TITLES, title_y):
    annotations.append(dict(text="<b>%s</b>" % title, x=0.5, y=py(ty), xref="paper", yref="paper",
                            xanchor="center", yanchor="middle", showarrow=False,
                            font=dict(family=FONT, size=21, color="black")))
for dom in domains:
    annotations.append(dict(text="Power (dB)", x=(24 - 100) / 841.0, y=(dom[0] + dom[1]) / 2,
                            xref="paper", yref="paper", xanchor="center", yanchor="middle",
                            textangle=-90, showarrow=False,
                            font=dict(family=FONT, size=22, color="black")))
annotations.append(dict(text="Time (ms)", x=(521 - 100) / 841.0, y=py(670), xref="paper", yref="paper",
                        xanchor="center", yanchor="middle", showarrow=False,
                        font=dict(family=FONT, size=22, color="black")))
fig.update_layout(annotations=annotations)

fig.write_html("out.html", config={"displayModeBar": False},
               post_script="document.body.style.margin='0px';document.body.style.overflow='hidden';")
